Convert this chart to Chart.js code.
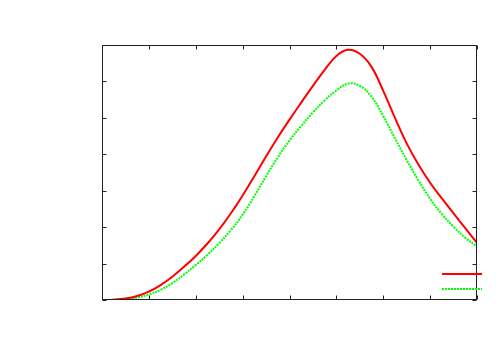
<!DOCTYPE html>
<html>
<head>
<meta charset="utf-8">
<script src="https://cdn.jsdelivr.net/npm/chart.js@4/dist/chart.umd.min.js"></script>
<style>
  html, body { margin: 0; padding: 0; background: #fff; }
  #wrap { width: 500px; height: 350px; }
</style>
</head>
<body>
<div id="wrap"><canvas id="c" width="500" height="350"></canvas></div>
<script>
const xValues = [0, 0.25, 0.5, 0.75, 1, 1.25, 1.5, 1.75, 2, 2.25, 2.5, 2.75, 3, 3.25, 3.5, 3.75, 4, 4.25, 4.5, 4.75, 5, 5.25, 5.5, 5.75, 6, 6.25, 6.5, 6.75, 7, 7.25, 7.5, 7.75, 8];
const redValues = [0, 0.01, 0.04, 0.11, 0.23, 0.41, 0.64, 0.91, 1.21, 1.55, 1.94, 2.38, 2.87, 3.4, 3.94, 4.46, 4.95, 5.42, 5.88, 6.32, 6.7, 6.87, 6.76, 6.4, 5.74, 5.0, 4.3, 3.72, 3.22, 2.79, 2.38, 1.97, 1.57];
const greenValues = [0, 0.005, 0.03, 0.07, 0.15, 0.28, 0.46, 0.7, 0.96, 1.24, 1.56, 1.92, 2.34, 2.85, 3.4, 3.92, 4.38, 4.78, 5.15, 5.48, 5.75, 5.94, 5.88, 5.58, 5.05, 4.44, 3.84, 3.28, 2.78, 2.36, 2.01, 1.71, 1.47];
const xTicks = [0, 1, 2, 3, 4, 5, 6, 7, 8];
const yTicks = [0, 1, 2, 3, 4, 5, 6, 7];
const seriesLabels = ['', ''];

const toPoints = (vals) => xValues.map((x, i) => ({ x: x, y: vals[i] }));

const framePlugin = {
  id: 'gnuFrame',
  afterDatasetsDraw(chart) {
    const { ctx, chartArea: a, scales } = chart;
    ctx.save();
    ctx.lineWidth = 1;
    ctx.strokeStyle = '#222';
    const L = Math.round(a.left) + 0.5, R = Math.round(a.right) - 0.5;
    const T = Math.round(a.top) + 0.5, B = Math.round(a.bottom) - 0.5;
    ctx.strokeRect(L, T, R - L, B - T);
    const tl = 4;
    ctx.beginPath();
    xTicks.forEach(v => {
      const px = Math.round(scales.x.getPixelForValue(v)) + 0.5;
      ctx.moveTo(px, B); ctx.lineTo(px, B - tl);
      ctx.moveTo(px, T); ctx.lineTo(px, T + tl);
    });
    yTicks.forEach(v => {
      const py = Math.round(scales.y.getPixelForValue(v)) + 0.5;
      ctx.moveTo(L, py); ctx.lineTo(L + tl, py);
      ctx.moveTo(R, py); ctx.lineTo(R - tl, py);
    });
    ctx.stroke();
    // legend samples
    chart.data.datasets.forEach((ds, i) => {
      ctx.beginPath();
      ctx.strokeStyle = ds.borderColor;
      ctx.lineWidth = ds.borderWidth;
      ctx.setLineDash(ds.borderDash || []);
      const y = 274 + i * 15;
      ctx.moveTo(442, y); ctx.lineTo(482, y);
      ctx.stroke();
    });
    ctx.restore();
  }
};

new Chart(document.getElementById('c'), {
  type: 'line',
  data: {
    datasets: [
      { label: seriesLabels[0], data: toPoints(redValues), borderColor: '#ff0000', borderWidth: 2, pointRadius: 0, tension: 0.4, fill: false },
      { label: seriesLabels[1], data: toPoints(greenValues), borderColor: '#00ff00', borderWidth: 2, borderDash: [2, 1], pointRadius: 0, tension: 0.4, fill: false }
    ]
  },
  options: {
    responsive: false,
    animation: false,
    layout: { padding: { left: 102, right: 23, top: 45, bottom: 50 } },
    plugins: { legend: { display: false }, tooltip: { enabled: false } },
    scales: {
      x: { type: 'linear', display: false, min: 0, max: 8 },
      y: { type: 'linear', display: false, min: 0, max: 7 }
    }
  },
  plugins: [framePlugin]
});
</script>
</body>
</html>
